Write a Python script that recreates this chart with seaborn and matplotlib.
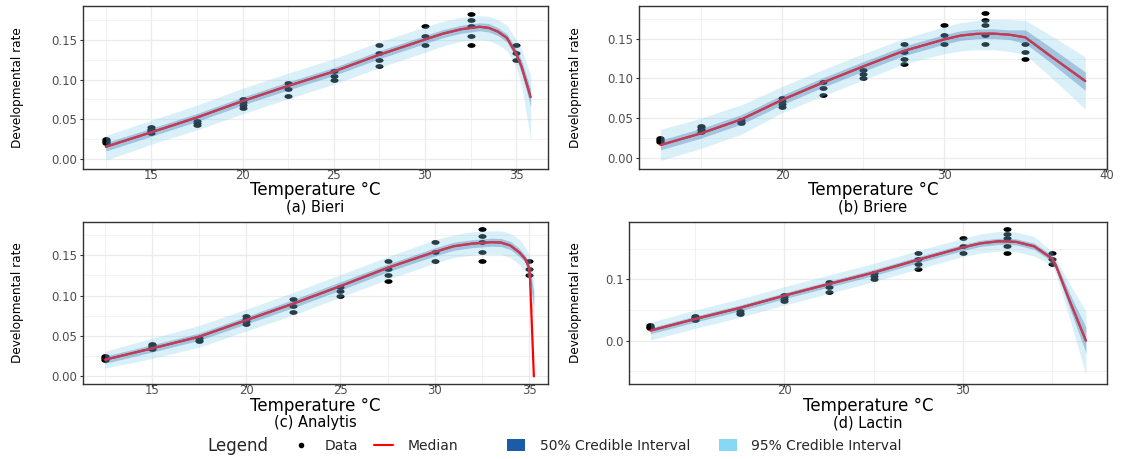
import matplotlib

matplotlib.use("Agg")
import matplotlib.pyplot as plt  # noqa: E402
import pandas as pd  # noqa: E402
import seaborn as sns  # noqa: E402
from matplotlib.lines import Line2D  # noqa: E402
from matplotlib.patches import Patch  # noqa: E402
from matplotlib.path import Path  # noqa: E402
from matplotlib.ticker import FormatStrFormatter, MultipleLocator  # noqa: E402
from matplotlib.transforms import Affine2D  # noqa: E402

# observed development rates (same data in every panel)
obs_temp = [12.5, 12.5, 12.5, 12.5, 12.5,
            15, 15, 15, 15, 15,
            17.5, 17.5, 17.5,
            20, 20, 20, 20,
            22.5, 22.5, 22.5,
            25, 25, 25,
            27.5, 27.5, 27.5, 27.5,
            30, 30, 30,
            32.5, 32.5, 32.5, 32.5, 32.5,
            35, 35, 35]
obs_rate = [0.020, 0.0215, 0.023, 0.0245, 0.025,
            0.0333, 0.0357, 0.037, 0.0385, 0.040,
            0.0435, 0.0455, 0.0476,
            0.0645, 0.068, 0.0713, 0.075,
            0.0796, 0.0875, 0.0958,
            0.100, 0.105, 0.111,
            0.1175, 0.125, 0.1333, 0.143,
            0.143, 0.154, 0.1667,
            0.143, 0.154, 0.1667, 0.174, 0.182,
            0.125, 0.1333, 0.143]

# (a) Bieri
temp_a = [12.5, 15, 17.5, 20, 22.5, 25, 27.5, 30, 31, 32, 33, 33.5, 34, 34.5, 35, 35.3, 35.8]
med_a = [0.0158, 0.034, 0.0525, 0.073, 0.092, 0.110, 0.131, 0.150, 0.1575, 0.163, 0.166,
         0.1646, 0.160, 0.152, 0.1325, 0.116, 0.078]
hi95_a = [0.030, 0.049, 0.068, 0.089, 0.108, 0.126, 0.147, 0.166, 0.173, 0.178, 0.180,
          0.179, 0.175, 0.168, 0.150, 0.138, 0.105]
lo95_a = [-0.001, 0.019, 0.037, 0.057, 0.076, 0.094, 0.115, 0.134, 0.142, 0.148, 0.150,
          0.149, 0.144, 0.136, 0.116, 0.092, 0.025]
hi50_a = [0.021, 0.039, 0.0575, 0.078, 0.097, 0.115, 0.136, 0.155, 0.1625, 0.168, 0.171,
          0.170, 0.165, 0.157, 0.138, 0.124, 0.088]
lo50_a = [0.0105, 0.029, 0.0475, 0.068, 0.087, 0.105, 0.126, 0.145, 0.1525, 0.158, 0.161,
          0.1595, 0.155, 0.147, 0.127, 0.108, 0.066]

# (b) Briere
temp_b = [12.5, 15, 17.5, 20, 22.5, 25, 27.5, 30, 31, 32, 33, 34, 35, 36.5, 38.7]
med_b = [0.0163, 0.031, 0.0486, 0.073, 0.0947, 0.115, 0.1345, 0.149, 0.1538, 0.156, 0.1563,
         0.155, 0.1516, 0.129, 0.0967]
hi95_b = [0.036, 0.050, 0.067, 0.090, 0.111, 0.131, 0.150, 0.165, 0.170, 0.173, 0.1745,
          0.174, 0.173, 0.155, 0.127]
lo95_b = [-0.003, 0.012, 0.030, 0.057, 0.078, 0.098, 0.118, 0.131, 0.1345, 0.136, 0.136,
          0.134, 0.130, 0.103, 0.0615]
hi50_b = [0.0225, 0.037, 0.0546, 0.079, 0.1007, 0.121, 0.1405, 0.155, 0.1598, 0.162, 0.1623,
          0.161, 0.161, 0.140, 0.108]
lo50_b = [0.0103, 0.025, 0.0426, 0.067, 0.0887, 0.109, 0.1285, 0.143, 0.1478, 0.150, 0.1503,
          0.149, 0.144, 0.121, 0.085]

# (c) Analytis
temp_c = [12.5, 15, 17.5, 20, 22.5, 25, 27.5, 30, 31, 32, 33, 33.5, 34, 34.5, 34.8, 35.0,
          35.05, 35.15, 35.25]
med_c = [0.0205, 0.0345, 0.049, 0.0694, 0.090, 0.1117, 0.1343, 0.154, 0.161, 0.1643, 0.166,
         0.1656, 0.162, 0.153, 0.145, 0.134, 0.120, 0.060, 0.0]
hi95_c = [0.031, 0.047, 0.063, 0.083, 0.104, 0.126, 0.148, 0.169, 0.175, 0.179, 0.180,
          0.180, 0.177, 0.169, 0.160, 0.150, 0.145, 0.135, 0.125]
lo95_c = [0.010, 0.022, 0.036, 0.056, 0.076, 0.098, 0.120, 0.140, 0.147, 0.150, 0.151,
          0.151, 0.147, 0.138, 0.130, 0.118, 0.110, 0.090, 0.065]
hi50_c = [0.025, 0.039, 0.0535, 0.074, 0.095, 0.117, 0.139, 0.159, 0.166, 0.169, 0.171,
          0.1706, 0.167, 0.158, 0.149, 0.139, 0.132, 0.118, 0.105]
lo50_c = [0.016, 0.030, 0.0445, 0.0648, 0.085, 0.1067, 0.1293, 0.149, 0.156, 0.1593, 0.161,
          0.1606, 0.157, 0.148, 0.141, 0.129, 0.118, 0.100, 0.085]

# (d) Lactin
temp_d = [12.5, 15, 17.5, 20, 22.5, 25, 27.5, 30, 31, 32, 32.5, 33, 34, 35, 35.25, 36, 36.9]
med_d = [0.0163, 0.0353, 0.0533, 0.0734, 0.0924, 0.111, 0.132, 0.152, 0.1587, 0.162, 0.1618,
         0.161, 0.1538, 0.134, 0.120, 0.064, 0.0]
hi95_d = [0.030, 0.050, 0.068, 0.088, 0.107, 0.126, 0.147, 0.167, 0.174, 0.178, 0.178,
          0.177, 0.170, 0.145, 0.132, 0.092, 0.048]
lo95_d = [0.001, 0.020, 0.038, 0.058, 0.077, 0.096, 0.117, 0.137, 0.143, 0.146, 0.146,
          0.145, 0.138, 0.123, 0.106, 0.035, -0.056]
hi50_d = [0.021, 0.040, 0.058, 0.078, 0.097, 0.116, 0.137, 0.157, 0.1637, 0.167, 0.1668,
          0.166, 0.159, 0.139, 0.126, 0.076, 0.022]
lo50_d = [0.0113, 0.0303, 0.0483, 0.0684, 0.0874, 0.106, 0.127, 0.147, 0.1537, 0.157, 0.1568,
          0.156, 0.1488, 0.129, 0.114, 0.052, -0.020]

panel_titles = ["(a) Bieri", "(b) Briere", "(c) Analytis", "(d) Lactin"]
legend_labels = ["Data", "Median", "50% Credible Interval", "95% Credible Interval"]

W, H = 1121, 459
RED = "#FF0000"
RED_IN_BAND = "#C63A52"
FILL95 = "#87CEEB"
FILL50 = "#1F5FA8"
KEY95 = "#86D8F3"
KEY50 = "#1A5DA6"
GRID = "#EBEBEB"
BORDER = "#333333"

sns.set_style("white")
plt.rcParams["font.family"] = ["DejaVu Sans"]

# ellipse marker (points look stretched in the original)
ellipse = Affine2D().scale(1.7, 1.0).transform_path(Path.unit_circle())


def rect(x0, y0, x1, y1):
    return [x0 / W, 1 - y1 / H, (x1 - x0) / W, (y1 - y0) / H]


def draw_panel(ax, temp, med, lo95, hi95, lo50, hi50, xlim, ylim, xstep, ystep, yfmt):
    obs = pd.DataFrame({"temp": obs_temp, "rate": obs_rate})
    curve = pd.DataFrame({"temp": temp, "med": med})
    sns.scatterplot(data=obs, x="temp", y="rate", ax=ax, color="black", marker=ellipse,
                    s=34, linewidth=0, zorder=2, legend=False)
    # plain red median where it leaves the ribbons
    sns.lineplot(data=curve, x="temp", y="med", ax=ax, color=RED, linewidth=1.6,
                 zorder=2.5, legend=False)
    band95 = ax.fill_between(temp, lo95, hi95, color=FILL95, alpha=0.3, linewidth=0,
                             zorder=3)
    ax.fill_between(temp, lo50, hi50, color=FILL50, alpha=0.3, linewidth=0, zorder=3.1)
    # inside the ribbons the median shows as crimson
    inner = ax.plot(temp, med, color=RED_IN_BAND, linewidth=1.6, zorder=3.5)[0]
    inner.set_clip_path(band95.get_paths()[0], ax.transData)

    ax.set_xlim(*xlim)
    ax.set_ylim(*ylim)
    ax.xaxis.set_major_locator(MultipleLocator(xstep))
    ax.xaxis.set_minor_locator(MultipleLocator(xstep / 2))
    ax.yaxis.set_major_locator(MultipleLocator(ystep))
    ax.yaxis.set_minor_locator(MultipleLocator(ystep / 2))
    ax.yaxis.set_major_formatter(FormatStrFormatter(yfmt))
    ax.grid(which="major", color=GRID, linewidth=0.9, zorder=0)
    ax.grid(which="minor", color=GRID, linewidth=0.5, zorder=0)
    ax.set_axisbelow(True)
    ax.set_xlabel("")
    ax.set_ylabel("")
    ax.tick_params(which="major", length=2.5, width=0.8, color=BORDER,
                   labelsize=8.4, labelcolor="#4D4D4D", bottom=True, left=True)
    ax.tick_params(axis="x", pad=-2.2)
    ax.tick_params(axis="y", pad=1.5)
    ax.tick_params(which="minor", length=0)
    for spine in ax.spines.values():
        spine.set_color(BORDER)
        spine.set_linewidth(1.0)


fig = plt.figure(figsize=(W / 100, H / 100), dpi=100)

panels = [
    (rect(83, 6, 548, 169), temp_a, med_a, lo95_a, hi95_a, lo50_a, hi50_a,
     (11.25, 36.75), (-0.012, 0.192), 5, 0.05, "%.2f", 18, 190, 207),
    (rect(639, 6, 1107, 169), temp_b, med_b, lo95_b, hi95_b, lo50_b, hi50_b,
     (11.18, 40.04), (-0.0138, 0.191), 10, 0.05, "%.2f", 576, 190, 207),
    (rect(83, 222, 548, 384), temp_c, med_c, lo95_c, hi95_c, lo50_c, hi50_c,
     (11.35, 36.0), (-0.0095, 0.191), 5, 0.05, "%.2f", 18, 406, 423),
    (rect(629, 222, 1107, 384), temp_d, med_d, lo95_d, hi95_d, lo50_d, hi50_d,
     (11.3, 38.08), (-0.0707, 0.1935), 10, 0.1, "%.1f", 576, 406, 423),
]

for title, (r, temp, med, lo95, hi95, lo50, hi50, xlim, ylim, xstep, ystep, yfmt,
            ylab_x, xlab_y, title_y) in zip(panel_titles, panels):
    ax = fig.add_axes(r)
    draw_panel(ax, temp, med, lo95, hi95, lo50, hi50, xlim, ylim, xstep, ystep, yfmt)
    cx = r[0] + r[2] / 2
    cy = r[1] + r[3] / 2
    fig.text(ylab_x / W, cy, "Developmental rate", rotation=90, ha="center",
             va="center", fontsize=8.7, color="black")
    fig.text(cx, 1 - xlab_y / H, "Temperature °C", ha="center", va="center",
             fontsize=12, color="black")
    fig.text(cx, 1 - title_y / H, title, ha="center", va="center", fontsize=10.5,
             color="black")

# legend row along the bottom
legend_y = 1 - 446 / H
fig.text(207 / W, legend_y, "Legend", ha="left", va="center", fontsize=12)
handles = [
    Line2D([], [], color="black", marker="o", markersize=3, linestyle="none"),
    Line2D([], [], color=RED, linewidth=1.5),
    Patch(facecolor=KEY50, edgecolor="none"),
    Patch(facecolor=KEY95, edgecolor="none"),
]
key_x = [294, 374, 507, 719]
key_len = [1.0, 1.37, 1.3, 1.3]
text_pad = [1.22, 1.08, 1.08, 1.0]
for handle, label, kx, klen, tpad in zip(handles, legend_labels, key_x, key_len, text_pad):
    fig.legend(handles=[handle], labels=[label], loc="center left",
               bbox_to_anchor=(kx / W, legend_y), frameon=False, fontsize=10,
               handlelength=klen, handleheight=1.0, handletextpad=tpad,
               borderpad=0, borderaxespad=0)

fig.savefig("out.png", dpi=100)
